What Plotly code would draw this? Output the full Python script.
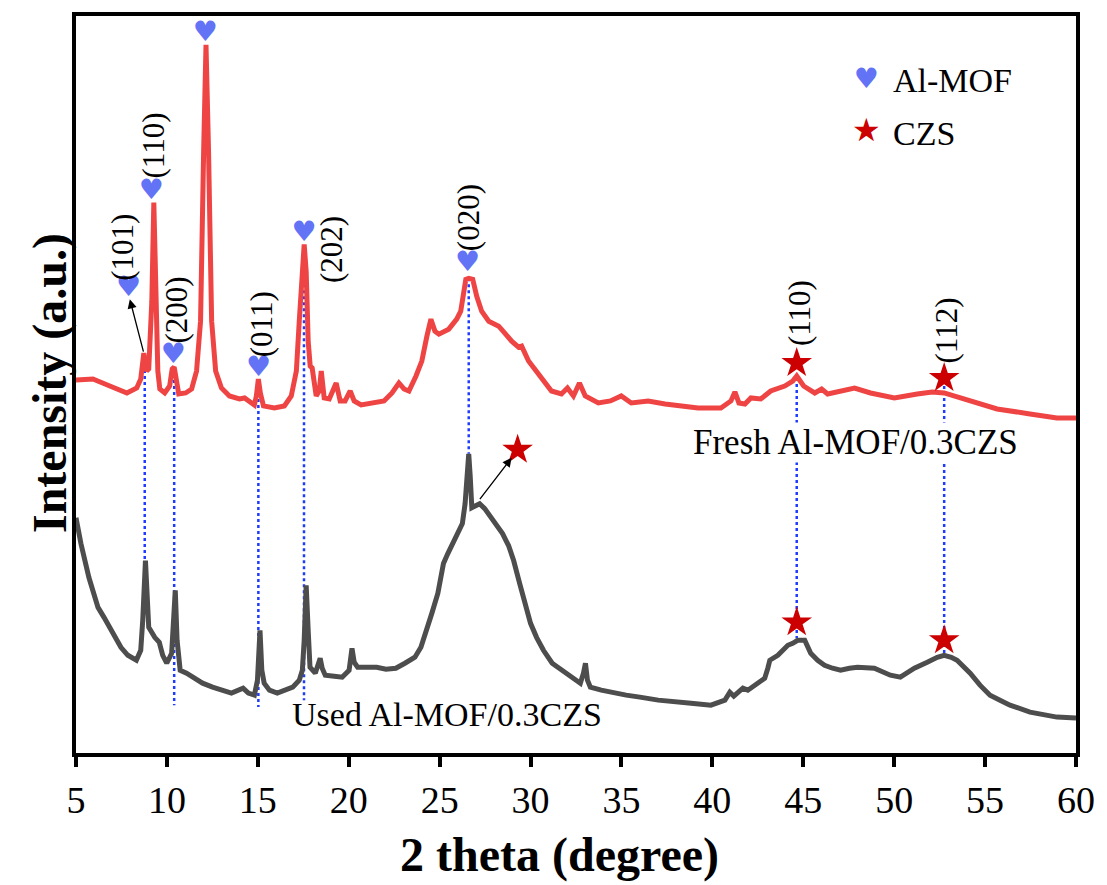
import plotly.graph_objects as go

# ---- data (intensity in arbitrary units, curves as stacked) ----
fresh_x = [5.0, 5.93, 6.86, 7.80, 8.34, 8.56, 8.73, 8.89, 9.0, 9.17, 9.28, 9.39, 9.50, 9.61, 9.88,
           10.15, 10.29, 10.40, 10.51, 10.65, 11.03, 11.36, 11.63, 11.85, 12.02, 12.15, 12.29, 12.46,
           12.68, 13.0, 13.44, 13.99, 14.27, 14.48, 14.81, 14.92, 15.03, 15.14, 15.31, 15.91, 16.46,
           16.84, 17.12, 17.28, 17.45, 17.55, 17.66, 17.77, 17.88, 17.99, 18.21, 18.38, 18.49, 18.65,
           18.93, 19.31, 19.53, 19.80, 20.08, 20.30, 20.68, 21.39, 21.94, 22.38, 22.76, 23.04, 23.31,
           23.70, 24.02, 24.30, 24.52, 24.74, 24.96, 25.50, 25.94, 26.16, 26.33, 26.44, 26.60, 26.82,
           27.04, 27.31, 27.70, 28.25, 28.63, 28.96, 29.34, 29.51, 29.89, 30.44, 31.15, 31.70, 32.03,
           32.36, 32.69, 33.01, 33.73, 34.39, 34.99, 35.54, 36.47, 37.40, 38.39, 39.21, 40.47, 41.02,
           41.24, 41.46, 41.79, 42.12, 42.66, 43.21, 43.98, 44.42, 44.64, 45.02, 45.63, 46.01, 46.34,
           47.16, 47.82, 48.70, 50.01, 51.27, 52.09, 52.75, 53.46, 54.18, 55.66, 57.47, 58.95, 60.0]
fresh_y = [374, 375, 368, 361, 366, 375, 401, 383, 385, 453, 552, 453, 383, 365, 361,
           368, 385, 387, 373, 360, 361, 365, 383, 433, 603, 710, 603, 433,
           383, 366, 358, 355, 356, 353, 349, 358, 375, 361, 348, 346, 348,
           358, 383, 433, 493, 510, 483, 413, 388, 386, 358, 363, 383, 356,
           355, 371, 353, 353, 363, 353, 349, 351, 353, 361, 371, 365, 363,
           378, 393, 418, 435, 423, 420, 425, 435, 443, 468, 475, 476, 475,
           458, 443, 433, 428, 420, 413, 407, 408, 393, 380, 363, 360, 366,
           358, 371, 358, 351, 353, 358, 351, 353, 350, 348, 346, 346, 353,
           362, 351, 350, 356, 355, 363, 368, 373, 378, 368, 361, 365, 360,
           363, 366, 361, 356, 360, 362, 361, 357, 353, 345, 340, 336, 336]

used_x = [5.0, 5.27, 5.71, 6.21, 6.54, 6.86, 7.14, 7.47, 7.85, 8.32, 8.56, 8.67, 8.82, 8.92, 9.0,
          9.33, 9.58, 9.77, 9.99, 10.26, 10.37, 10.46, 10.56, 10.73, 11.08, 11.47, 11.96, 12.51,
          13.0, 13.55, 14.19, 14.48, 14.81, 14.98, 15.12, 15.22, 15.35, 15.64, 16.07, 16.46, 16.92,
          17.28, 17.45, 17.55, 17.66, 17.77, 17.87, 18.16, 18.32, 18.43, 18.54, 18.71, 19.20, 19.64,
          20.02, 20.18, 20.30, 20.49, 21.01, 21.54, 22.05, 22.59, 23.09, 23.64, 23.97, 24.24, 24.57,
          24.90, 25.21, 25.45, 25.72, 26.0, 26.25, 26.40, 26.49, 26.60, 26.68, 26.77, 26.98, 27.20,
          27.48, 27.83, 28.14, 28.46, 28.79, 29.07, 29.40, 29.73, 30.0, 30.33, 30.71, 31.19, 31.70,
          32.25, 32.74, 32.91, 33.02, 33.13, 33.29, 33.89, 34.55, 35.26, 36.01, 37.02, 38.83, 39.92,
          40.69, 40.96, 41.18, 41.40, 41.68, 41.95, 42.50, 42.88, 43.05, 43.16, 43.60, 44.15, 44.42,
          44.69, 45.08, 45.24, 45.41, 45.79, 46.17, 46.61, 47.05, 47.54, 47.98, 48.91, 49.79, 50.34,
          50.72, 51.11, 51.82, 52.37, 52.75, 53.14, 53.46, 53.85, 54.18, 54.72, 55.27, 55.82, 56.37,
          57.47, 58.23, 58.95, 60.0]
used_y = [236, 210, 176, 146, 136, 126, 115, 106, 98, 93, 103, 133, 193, 143, 126,
          116, 111, 98, 90, 100, 133, 163, 113, 83, 80, 76, 70, 66,
          63, 60, 65, 60, 58, 73, 123, 83, 70, 63, 60, 63, 66,
          73, 83, 113, 168, 123, 86, 80, 88, 95, 85, 78, 77, 76,
          83, 105, 91, 86, 86, 86, 84, 85, 90, 96, 106, 120, 140,
          160, 190, 200, 210, 220, 230, 250, 283, 300, 278, 246, 248, 250,
          245, 236, 228, 220, 208, 193, 170, 146, 130, 116, 103, 90, 83,
          76, 70, 80, 90, 73, 66, 63, 60, 58, 56, 53, 50, 48,
          53, 61, 57, 60, 65, 63, 70, 75, 85, 93, 98, 108, 110,
          113, 113, 107, 100, 93, 88, 85, 83, 85, 86, 85, 78, 76,
          80, 85, 91, 96, 98, 96, 93, 86, 80, 68, 58, 53, 48,
          41, 38, 36, 35]

# Al-MOF peaks (hearts)
mof_heart_x = [7.90, 9.16, 10.37, 12.12, 15.05, 17.56, 26.55]
mof_heart_y = [465, 563, 398, 721, 385, 520, 490]
mof_labels = ["(101)", "(110)", "(200)", "", "(011)", "(202)", "(020)"]
mof_label_x = [7.55, 9.28, 10.52, None, 15.18, 19.06, 26.6]
mof_label_y = [507, 609, 444, None, 430, 505, 537]

# CZS peaks (stars)
czs_x = [44.64, 52.75]
czs_fresh_y = [391, 376]
czs_used_y = [131, 113]
czs_labels = ["(110)", "(112)"]
czs_label_y = [441, 424]
extra_star_x, extra_star_y = [29.29], [304]

# dotted reference lines: position, top, bottom
ref_x = [8.78, 10.40, 15.03, 17.54, 26.6, 44.64, 52.75]
ref_top = [390, 380, 373, 476, 476, 376, 368]
ref_bot = [193, 48, 46, 53, 300, 115, 98]

RED = "#EF4444"
GRAY = "#4D4D4D"
HEART = "#6373F6"
STARC = "#CC0000"
DOT = "#1E3CFF"
SERIF = "Liberation Serif"

fig = go.Figure()

for xv, t, b in zip(ref_x, ref_top, ref_bot):
    fig.add_trace(go.Scatter(x=[xv, xv], y=[t, b], mode="lines",
                             line=dict(color=DOT, width=2.5, dash="dot"),
                             showlegend=False, hoverinfo="skip"))

fig.add_trace(go.Scatter(x=fresh_x, y=fresh_y, mode="lines", name="Fresh",
                         line=dict(color=RED, width=5), showlegend=False))
fig.add_trace(go.Scatter(x=used_x, y=used_y, mode="lines", name="Used",
                         line=dict(color=GRAY, width=5), showlegend=False))

fig.add_trace(go.Scatter(x=mof_heart_x, y=mof_heart_y, mode="text", text=["♥"] * len(mof_heart_x),
                         textfont=dict(family="DejaVu Sans", size=28, color=HEART),
                         textposition="middle center", showlegend=False))

fig.add_trace(go.Scatter(x=czs_x + czs_x + extra_star_x, y=czs_fresh_y + czs_used_y + extra_star_y,
                         mode="markers", marker=dict(symbol="star", size=23, color=STARC,
                                                     line=dict(width=0)),
                         showlegend=False))

annotations = []
for lab, lx, ly in zip(mof_labels, mof_label_x, mof_label_y):
    if lab:
        annotations.append(dict(x=lx, y=ly, xref="x", yref="y", text=lab, showarrow=False,
                                textangle=-90, font=dict(family=SERIF, size=31, color="black")))
for lab, lx, ly in zip(czs_labels, czs_x, czs_label_y):
    annotations.append(dict(x=lx + 0.12, y=ly, xref="x", yref="y", text=lab, showarrow=False,
                            textangle=-90, font=dict(family=SERIF, size=31, color="black")))

annotations.append(dict(x=47.87, y=311, xref="x", yref="y", text="Fresh Al-MOF/0.3CZS",
                        showarrow=False, bgcolor="white", borderpad=0,
                        font=dict(family=SERIF, size=35, color="black")))
annotations.append(dict(x=25.4, y=39, xref="x", yref="y", text="Used Al-MOF/0.3CZS",
                        showarrow=False, font=dict(family=SERIF, size=34, color="black")))

# arrows
annotations.append(dict(x=7.96, y=455, xref="x", yref="y", ax=8.73, ay=401, axref="x", ayref="y",
                        text="", showarrow=True, arrowhead=2, arrowsize=1.4, arrowwidth=1.3,
                        arrowcolor="black"))
annotations.append(dict(x=28.96, y=296, xref="x", yref="y", ax=27.15, ay=253, axref="x", ayref="y",
                        text="", showarrow=True, arrowhead=2, arrowsize=1.4, arrowwidth=1.3,
                        arrowcolor="black"))

# legend
annotations.append(dict(x=0.790, y=0.915, xref="paper", yref="paper", text="♥", showarrow=False,
                        xanchor="center", yanchor="middle",
                        font=dict(family="DejaVu Sans", size=28, color=HEART)))
annotations.append(dict(x=0.790, y=0.845, xref="paper", yref="paper", text="★", showarrow=False,
                        xanchor="center", yanchor="middle",
                        font=dict(family="DejaVu Sans", size=32, color=STARC)))
annotations.append(dict(x=0.815, y=0.913, xref="paper", yref="paper", text="Al-MOF", showarrow=False,
                        xanchor="left", yanchor="middle",
                        font=dict(family=SERIF, size=34, color="black")))
annotations.append(dict(x=0.815, y=0.840, xref="paper", yref="paper", text="CZS", showarrow=False,
                        xanchor="left", yanchor="middle",
                        font=dict(family=SERIF, size=34, color="black")))

# axis titles
annotations.append(dict(x=0.4835, y=-0.139, xref="paper", yref="paper", text="<b>2 theta (degree)</b>",
                        showarrow=False, xanchor="center", yanchor="middle",
                        font=dict(family=SERIF, size=48, color="black")))
annotations.append(dict(x=-0.026, y=0.502, xref="paper", yref="paper", text="<b>Intensity (a.u.)</b>",
                        showarrow=False, xanchor="center", yanchor="middle", textangle=-90,
                        font=dict(family=SERIF, size=48, color="black")))

fig.update_layout(
    width=1107, height=885,
    margin=dict(l=76, r=28, t=14, b=132),
    paper_bgcolor="white", plot_bgcolor="white",
    annotations=annotations,
    xaxis=dict(range=[5, 60], tickmode="array", tickvals=list(range(5, 61, 5)),
               ticks="outside", ticklen=10, tickwidth=4, tickcolor="black",
               ticklabelstandoff=0,
               showline=True, linewidth=4, linecolor="black", mirror=True,
               showgrid=False, zeroline=False,
               tickfont=dict(family=SERIF, size=38, color="black")),
    yaxis=dict(range=[0, 739], showticklabels=False, ticks="",
               showline=True, linewidth=4, linecolor="black", mirror=True,
               showgrid=False, zeroline=False),
)

fig.write_html("out.html")
